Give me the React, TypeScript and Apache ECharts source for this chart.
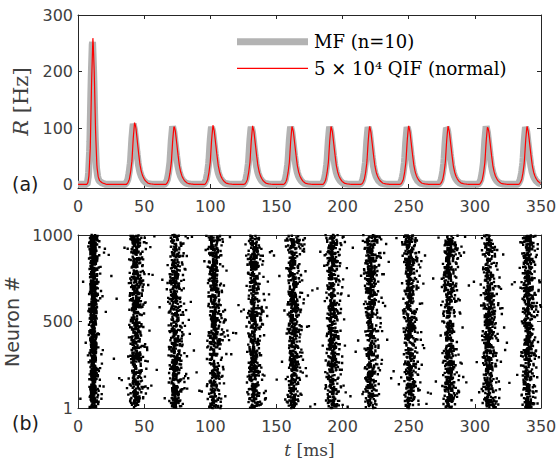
import React, { useEffect, useRef } from "react";
import * as echarts from "echarts";

// ---- data ----
const timeTicks = [0, 50, 100, 150, 200, 250, 300, 350];
const rateTicks = [0, 100, 200, 300];
const neuronTicks = [1, 500, 1000];

// QIF network (red): peak times [ms] and peak rates [Hz]
const qifPeakTimes = [11.3, 42.8, 72.6, 102.0, 132.0, 161.8, 191.3, 220.4, 249.9, 279.7, 309.6, 339.4];
const qifPeakRates = [263, 111, 105, 105, 104, 104, 104, 104, 105, 104, 104, 104];
const qifBaseline = 0.5;

// Mean-field model (gray)
const mfPeakTimes = [10.9, 41.7, 71.5, 100.9, 130.9, 160.7, 190.2, 219.3, 248.8, 278.6, 308.5, 338.3];
const mfPeakRates = [259, 108, 103, 103, 103, 103, 103, 103, 103, 103, 103, 103];
const mfBaseline = 0.5;

// peak profiles (offset from the peak in ms, fraction of peak height)
const firstPeakOffsets = [-4, -3, -2, -1, 0, 1, 2, 3, 4, 5, 7, 10];
const firstPeakShape = [0, 0.06, 0.25, 0.7, 1, 0.75, 0.35, 0.12, 0.05, 0.025, 0.01, 0];
const peakOffsets = [-6, -5, -4, -3, -2, -1, 0, 1, 2, 3, 4, 5, 6, 7, 8, 10, 12, 15];
const peakShape = [0, 0.03, 0.08, 0.2, 0.38, 0.75, 1, 0.9, 0.7, 0.5, 0.32, 0.21, 0.14, 0.095, 0.06, 0.02, 0.008, 0];

const sampleStep = 0.25; // ms
const tMax = 350;
const nNeurons = 1000;

const legendNames = ["MF (n=10)", "5 × 10⁴ QIF (normal)"];

// ---- helpers ----
function profileAt(offsets: number[], shape: number[], dt: number): number {
  if (dt <= offsets[0] || dt >= offsets[offsets.length - 1]) return 0;
  for (let i = 0; i < offsets.length - 1; i++) {
    if (dt >= offsets[i] && dt <= offsets[i + 1]) {
      const f = (dt - offsets[i]) / (offsets[i + 1] - offsets[i]);
      return shape[i] + f * (shape[i + 1] - shape[i]);
    }
  }
  return 0;
}

function buildRate(times: number[], rates: number[], base: number): number[][] {
  const out: number[][] = [];
  const n = Math.round(tMax / sampleStep);
  for (let i = 0; i <= n; i++) {
    const t = i * sampleStep;
    let v = base;
    for (let k = 0; k < times.length; k++) {
      const off = k === 0 ? firstPeakOffsets : peakOffsets;
      const sh = k === 0 ? firstPeakShape : peakShape;
      v += (rates[k] - base) * profileAt(off, sh, t - times[k]);
    }
    out.push([t, +v.toFixed(2)]);
  }
  return out;
}

function hash(n: number): number {
  let x = Math.imul(n ^ 0x9e3779b9, 0x85ebca6b);
  x ^= x >>> 13;
  x = Math.imul(x, 0xc2b2ae35);
  x ^= x >>> 16;
  return (x >>> 0) / 4294967296;
}

// raster dots placed according to the QIF rate (expected spike counts per bin)
function buildRaster(rate: number[][]): number[][] {
  const dots: number[][] = [];
  let carry = 0;
  let idx = 0;
  for (let i = 0; i < rate.length - 1; i++) {
    const [t, r] = rate[i];
    carry += r * nNeurons * (sampleStep / 1000);
    while (carry >= 1) {
      carry -= 1;
      idx++;
      const tt = t + hash(idx * 2 + 1) * sampleStep;
      const nn = 1 + Math.floor(hash(idx * 2 + 7) * nNeurons);
      dots.push([+tt.toFixed(3), nn]);
    }
  }
  return dots;
}

const AXIS = "#262626";
const LABEL = "#404040";
const SANS = "DejaVu Sans";
const SERIF = "DejaVu Serif";

export default function App() {
  const ref = useRef<HTMLDivElement>(null);
  useEffect(() => {
    if (!ref.current) return;
    const chart = echarts.init(ref.current, undefined, { renderer: "svg" });
    const qif = buildRate(qifPeakTimes, qifPeakRates, qifBaseline);
    const mf = buildRate(mfPeakTimes, mfPeakRates, mfBaseline);
    const raster = buildRaster(qif);

    const xBase = (gridIndex: number, showName: boolean) => ({
      type: "value" as const,
      gridIndex,
      min: timeTicks[0],
      max: timeTicks[timeTicks.length - 1],
      interval: 50,
      position: "bottom" as const,
      axisLine: { show: true, onZero: false, lineStyle: { color: AXIS, width: 1 } },
      axisTick: { show: true, inside: true, length: 4, lineStyle: { color: AXIS } },
      axisLabel: { show: true, color: LABEL, fontFamily: SANS, fontSize: 16, margin: 10, formatter: (v: number) => String(v) },
      splitLine: { show: false },
      name: showName ? "{it|t} [ms]" : "",
      nameLocation: "middle" as const,
      nameGap: 33,
      nameTextStyle: {
        color: LABEL,
        fontFamily: SERIF,
        fontSize: 17,
        rich: { it: { fontStyle: "italic", fontFamily: SERIF, fontSize: 17, color: LABEL } },
      },
    });
    const xTop = (gridIndex: number) => ({
      type: "value" as const,
      gridIndex,
      min: timeTicks[0],
      max: timeTicks[timeTicks.length - 1],
      interval: 50,
      position: "top" as const,
      axisLine: { show: true, onZero: false, lineStyle: { color: AXIS, width: 1 } },
      axisTick: { show: true, inside: true, length: 4, lineStyle: { color: AXIS } },
      axisLabel: { show: false },
      splitLine: { show: false },
    });
    const yCommon = {
      type: "value" as const,
      splitLine: { show: false },
    };

    const option = {
      animation: false,
      backgroundColor: "#ffffff",
      grid: [
        { left: 78, top: 15, width: 463, height: 173, outerBoundsMode: "none", containLabel: false },
        { left: 78, top: 235, width: 463, height: 173, outerBoundsMode: "none", containLabel: false },
      ],
      xAxis: [xBase(0, false), xBase(1, true), xTop(0), xTop(1)],
      yAxis: [
        {
          ...yCommon,
          gridIndex: 0,
          min: -6,
          max: 300,
          position: "left",
          axisLine: { show: true, onZero: false, lineStyle: { color: AXIS, width: 1 } },
          axisTick: { show: true, inside: true, length: 4, customValues: rateTicks, lineStyle: { color: AXIS } },
          axisLabel: { show: true, customValues: rateTicks, color: LABEL, fontFamily: SANS, fontSize: 16, margin: 5, formatter: (v: number) => String(v) },
          name: "{it|R} [Hz]",
          nameLocation: "middle",
          nameRotate: 90,
          nameGap: 44,
          nameTextStyle: {
            color: LABEL,
            fontFamily: SERIF,
            fontSize: 21,
            rich: { it: { fontStyle: "italic", fontFamily: SERIF, fontSize: 21, color: LABEL } },
          },
        },
        {
          ...yCommon,
          gridIndex: 1,
          min: 1,
          max: 1000,
          position: "left",
          axisLine: { show: true, onZero: false, lineStyle: { color: AXIS, width: 1 } },
          axisTick: { show: true, inside: true, length: 4, customValues: neuronTicks, lineStyle: { color: AXIS } },
          axisLabel: { show: true, customValues: neuronTicks, color: LABEL, fontFamily: SANS, fontSize: 16, margin: 5, formatter: (v: number) => String(v) },
          name: "Neuron #",
          nameLocation: "middle",
          nameRotate: 90,
          nameGap: 42,
          nameTextStyle: { color: LABEL, fontFamily: SANS, fontSize: 19 },
        },
        {
          ...yCommon,
          gridIndex: 0,
          min: -6,
          max: 300,
          position: "right",
          axisLine: { show: true, onZero: false, lineStyle: { color: AXIS, width: 1 } },
          axisTick: { show: true, inside: true, length: 4, customValues: rateTicks, lineStyle: { color: AXIS } },
          axisLabel: { show: false },
        },
        {
          ...yCommon,
          gridIndex: 1,
          min: 1,
          max: 1000,
          position: "right",
          axisLine: { show: true, onZero: false, lineStyle: { color: AXIS, width: 1 } },
          axisTick: { show: true, inside: true, length: 4, customValues: neuronTicks, lineStyle: { color: AXIS } },
          axisLabel: { show: false },
        },
      ],
      series: [
        {
          name: legendNames[0],
          type: "line",
          xAxisIndex: 0,
          yAxisIndex: 0,
          data: mf,
          showSymbol: false,
          symbol: "none",
          clip: true,
          lineStyle: { color: "#b3b3b3", width: 7 },
          z: 2,
        },
        {
          name: legendNames[1],
          type: "line",
          xAxisIndex: 0,
          yAxisIndex: 0,
          data: qif,
          showSymbol: false,
          symbol: "none",
          clip: true,
          lineStyle: { color: "#ff0000", width: 1.2 },
          z: 3,
        },
        {
          name: "raster",
          type: "scatter",
          xAxisIndex: 1,
          yAxisIndex: 1,
          data: raster,
          symbol: "rect",
          symbolSize: 2.4,
          large: true,
          largeThreshold: 1000,
          itemStyle: { color: "#000000", opacity: 1 },
          clip: true,
        },
      ],
      graphic: [
        { type: "line", shape: { x1: 237, y1: 41.7, x2: 308, y2: 41.7 }, style: { stroke: "#b3b3b3", lineWidth: 7 } },
        { type: "line", shape: { x1: 237, y1: 68.3, x2: 308, y2: 68.3 }, style: { stroke: "#ff0000", lineWidth: 1.2 } },
        {
          type: "text",
          x: 314,
          y: 41.7,
          style: { text: legendNames[0], font: `18px "${SERIF}"`, fill: "#000", textAlign: "left", textVerticalAlign: "middle" },
        },
        {
          type: "text",
          x: 314,
          y: 68.3,
          style: { text: legendNames[1], font: `18px "${SERIF}"`, fill: "#000", textAlign: "left", textVerticalAlign: "middle" },
        },
        {
          type: "text",
          x: 12,
          y: 184,
          style: { text: "(a)", font: `19px "${SANS}"`, fill: "#1a1a1a", textAlign: "left", textVerticalAlign: "middle" },
        },
        {
          type: "text",
          x: 12,
          y: 423,
          style: { text: "(b)", font: `19px "${SANS}"`, fill: "#1a1a1a", textAlign: "left", textVerticalAlign: "middle" },
        },
      ],
    };
    chart.setOption(option as any);
    return () => chart.dispose();
  }, []);
  return (
    <div
      ref={ref}
      style={{ position: "fixed", left: 0, top: 0, width: 556, height: 463, background: "#fff" }}
    />
  );
}
